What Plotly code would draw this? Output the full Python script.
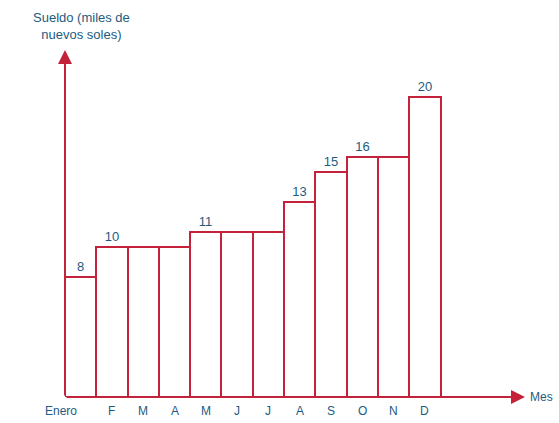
import plotly.graph_objects as go

meses = ["Enero", "F", "M", "A", "M", "J", "J", "A", "S", "O", "N", "D"]
sueldo = [8, 10, 10, 10, 11, 11, 11, 13, 15, 16, 16, 20]
etiquetas = ["8", "10", "", "", "11", "", "", "13", "15", "16", "", "20"]

rojo = "#c4213a"
azul = "#1d5b80"
fuente = "Liberation Sans, Arial, sans-serif"

fig = go.Figure()

fig.add_bar(
    x=[i + 0.5 for i in range(len(meses))], y=sueldo, width=1,
    marker=dict(color="white", line=dict(color=rojo, width=2)),
    text=etiquetas, textposition="outside", cliponaxis=False,
    textfont=dict(color=azul, size=13, family=fuente),
)

# ejes con flechas
fig.add_annotation(x=0, y=1, xref="paper", yref="paper", ax=0, ay=347,
                   text="", showarrow=True,
                   arrowhead=2, arrowsize=1.4, arrowwidth=2, arrowcolor=rojo)
fig.add_annotation(x=1, y=0, xref="paper", yref="paper", ax=-460, ay=0,
                   text="", showarrow=True,
                   arrowhead=2, arrowsize=1.4, arrowwidth=2, arrowcolor=rojo)

for i, m in enumerate(meses):
    fig.add_annotation(x=i + 0.5, y=0, yref="y", text=m, showarrow=False,
                       yshift=-14, xshift=-20 if i == 0 else 0,
                       font=dict(color=azul, size=12, family=fuente))

fig.add_annotation(x=1, y=0, xref="paper", yref="paper", text="Mes",
                   showarrow=False, xanchor="left", yanchor="middle", xshift=3,
                   font=dict(color=azul, size=12, family=fuente))
fig.add_annotation(x=0, y=1, xref="paper", yref="paper",
                   text="Sueldo (miles de<br>nuevos soles)", showarrow=False,
                   xanchor="center", yanchor="bottom", xshift=16, yshift=6,
                   font=dict(color=azul, size=13, family=fuente))

fig.update_xaxes(range=[0, 14.7], visible=False)
fig.update_yaxes(range=[0, 23.1], visible=False)
fig.update_layout(
    width=559, height=423, showlegend=False,
    plot_bgcolor="white", paper_bgcolor="white",
    margin=dict(l=65, r=34, t=50, b=26),
    bargap=0,
)

fig.write_html("out.html", config={"displayModeBar": False},
               post_script="document.body.style.margin='0';")
